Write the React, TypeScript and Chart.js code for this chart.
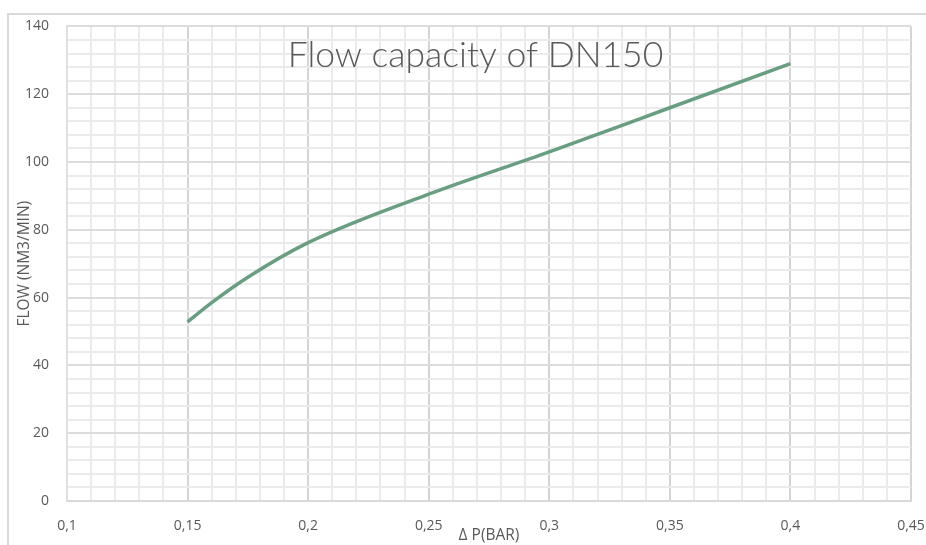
import React, { useEffect, useRef } from "react";
import { Chart, registerables } from "chart.js";

Chart.register(...registerables);

const chartTitle = "Flow capacity of DN150";
const xAxisTitle = "Δ P(BAR)";
const yAxisTitle = "FLOW (NM3/MIN)";

const pressureDrop = [0.15, 0.16, 0.175, 0.2, 0.25, 0.3, 0.35, 0.4];
const flow = [52.8, 58.5, 66, 76.2, 90.5, 103, 116, 129];

const xMin = 0.1;
const xMax = 0.45;
const xMinorStep = 0.01;
const yMin = 0;
const yMax = 140;
const yMinorStep = 4;

const fmt = (v: number) => String(Math.round(v * 100) / 100).replace(".", ",");

const framePlugin = {
  id: "frameAndTitle",
  beforeDraw(chart: any) {
    const { ctx, width, height } = chart;
    ctx.save();
    ctx.fillStyle = "#ffffff";
    ctx.fillRect(0, 0, width, height);
    ctx.strokeStyle = "#d9d9d9";
    ctx.lineWidth = 2;
    ctx.beginPath();
    ctx.moveTo(8, height);
    ctx.lineTo(8, 14);
    ctx.lineTo(width, 14);
    ctx.stroke();
    ctx.restore();
  },
  afterDatasetsDraw(chart: any) {
    const { ctx, chartArea } = chart;
    ctx.save();
    ctx.font = "300 35.5px Lato, 'Open Sans', sans-serif";
    ctx.fillStyle = "#595959";
    ctx.textAlign = "center";
    ctx.textBaseline = "alphabetic";
    ctx.fillText(chartTitle, chartArea.left + (chartArea.right - chartArea.left) * 0.484, 67);
    ctx.restore();
  },
};

export default function App() {
  const ref = useRef<HTMLCanvasElement | null>(null);

  useEffect(() => {
    if (!ref.current) return;
    const chart = new Chart(ref.current, {
      type: "line",
      data: {
        datasets: [
          {
            data: pressureDrop.map((x, i) => ({ x, y: flow[i] })),
            borderColor: "#6a9e81",
            borderWidth: 3.5,
            pointRadius: 0,
            fill: false,
            cubicInterpolationMode: "monotone",
          },
        ],
      },
      options: {
        animation: false,
        responsive: false,
        maintainAspectRatio: false,
        layout: { padding: { top: 25, right: 0, left: 0, bottom: 0 } },
        plugins: {
          legend: { display: false },
          tooltip: { enabled: false },
          title: { display: false },
        },
        scales: {
          x: {
            type: "linear",
            min: xMin,
            max: xMax,
            ticks: {
              stepSize: xMinorStep,
              autoSkip: false,
              maxRotation: 0,
              padding: 17,
              color: "#595959",
              font: { family: "'Open Sans', sans-serif", size: 14 },
              callback: (v: any) => (Math.round(Number(v) * 100) % 5 === 0 ? fmt(Number(v)) : ""),
            },
            grid: {
              drawTicks: false,
              color: (c: any) =>
                c.tick && Math.round(c.tick.value * 100) % 5 === 0 ? "#d4d4d4" : "#ebebeb",
              lineWidth: 2,
            },
            border: { display: true, color: "#d9d9d9", width: 2 },
            title: {
              display: true,
              text: xAxisTitle,
              color: "#595959",
              font: { family: "'Open Sans', sans-serif", size: 15.5 },
              padding: { top: 0, bottom: 0 },
            },
            afterFit: (s: any) => {
              s.height = 44;
              s.paddingRight = 15;
            },
          },
          y: {
            type: "linear",
            min: yMin,
            max: yMax,
            ticks: {
              stepSize: yMinorStep,
              autoSkip: false,
              padding: 18,
              color: "#595959",
              font: { family: "'Open Sans', sans-serif", size: 14 },
              callback: (v: any) => (Number(v) % 20 === 0 ? String(v) : ""),
            },
            grid: {
              drawTicks: false,
              color: (c: any) => (c.tick && c.tick.value % 20 === 0 ? "#dcdcdc" : "#ebebeb"),
              lineWidth: 2,
            },
            border: { display: true, color: "#e0e0e0", width: 2 },
            title: {
              display: true,
              text: yAxisTitle,
              color: "#595959",
              font: { family: "'Open Sans', sans-serif", size: 15.5 },
              padding: { top: 15, bottom: 0 },
            },
            afterFit: (s: any) => {
              s.width = 67;
            },
          },
        },
      },
      plugins: [framePlugin],
    });
    return () => chart.destroy();
  }, []);

  return (
    <div style={{ position: "fixed", left: 0, top: 0, width: 926, height: 545, background: "#fff" }}>
      <canvas ref={ref} width={926} height={545} style={{ width: 926, height: 545, display: "block" }} />
    </div>
  );
}
